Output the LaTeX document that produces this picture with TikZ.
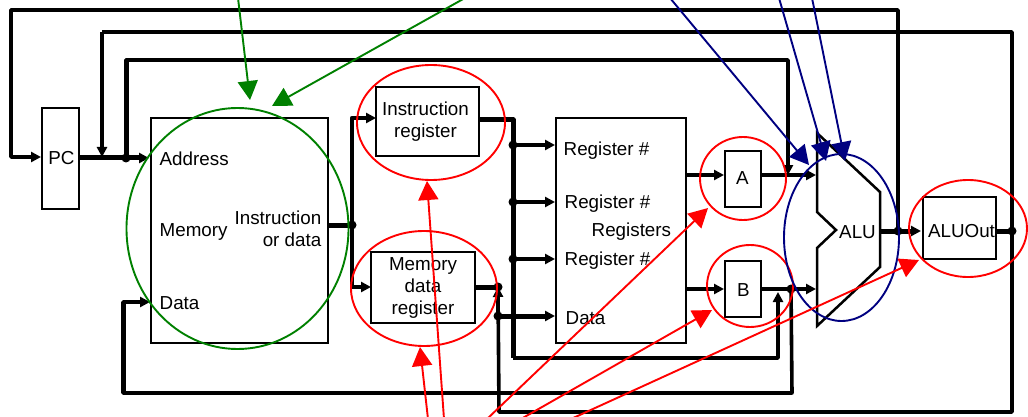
\documentclass[tikz,border=0pt]{standalone}
\usepackage{fontspec}
\setmainfont{Liberation Sans}
\usetikzlibrary{arrows.meta,shapes.geometric}
\definecolor{dkgreen}{RGB}{0,128,0}
\definecolor{dkblue}{RGB}{0,0,128}
\tikzset{
  lab/.style={inner sep=0pt,font=\fontsize{18.8}{22}\selectfont,text=black},
  box/.style={draw=black,line width=2.8pt,inner sep=0pt},
  ring/.style={ellipse,draw=#1,line width=1.9pt,inner sep=0pt},
  wire/.style={draw=black,line width=3.6pt,line join=round},
  bus/.style={draw=black,line width=5pt,line join=round},
  tip/.style={-{Triangle[length=10pt,width=10pt]}},
  dotn/.style={circle,fill=black,inner sep=0pt,minimum size=9pt},
  callred/.style={draw=red,line width=1.9pt,-{Triangle[length=19pt,width=20pt]}},
  callgreen/.style={draw=dkgreen,line width=1.9pt,-{Triangle[length=19pt,width=20pt]}},
  callblue/.style={draw=dkblue,line width=1.9pt,-{Triangle[length=19pt,width=20pt]}},
}
\begin{document}
\begin{tikzpicture}[x=1pt,y=-1pt]
\useasboundingbox (0,0) rectangle (1028,417);
% boxes
\node[box,minimum width=37pt,minimum height=101pt] (pc) at (60.5,158.5) {};
\node[box,minimum width=177pt,minimum height=225pt] (mem) at (239.5,230.5) {};
\node[box,minimum width=103pt,minimum height=69pt] (ir) at (427.5,121.5) {};
\node[box,minimum width=104pt,minimum height=71pt] (mdr) at (423,287.5) {};
\node[box,minimum width=130pt,minimum height=225pt] (regs) at (621,230.5) {};
\node[box,minimum width=36pt,minimum height=56pt] (a) at (743,179) {};
\node[box,minimum width=36pt,minimum height=56pt] (b) at (743,289) {};
\node[box,minimum width=73pt,minimum height=62pt] (aluout) at (959.5,228) {};
% labels
\node[lab] (tpc) at (61.5,158.5) {PC};
\node[lab,align=center] (tir) at (425.5,122) {Instruction\\register};
\node[lab,align=center] (tmdr) at (423,287.5) {Memory\\data\\register};
\node[lab] (ta) at (742.5,178.5) {A};
\node[lab] (tb) at (743.5,290) {B};
\node[lab] (aluouttxt) at (961.5,231.5) {ALUOut};
\node[lab,anchor=west] (t1) at (159.5,158.5) {Address};
\node[lab,anchor=west] (t2) at (159.5,232) {Memory};
\node[lab,anchor=west] (t3) at (159.5,303) {Data};
\node[lab,align=right,anchor=east] (t4) at (321.5,229) {Instruction\\or data};
\node[lab,anchor=west] (t5) at (563.5,151) {Register \#};
\node[lab,anchor=west] (t6) at (564.5,203.5) {Register \#};
\node[lab,anchor=west] (t7) at (564.5,261) {Register \#};
\node[lab,anchor=west] (t8) at (565.5,318) {Data};
\node[lab,anchor=west] (t9) at (591.5,232) {Registers};
\node[lab] (t10) at (857.5,232) {ALU};
% ALU
\draw[line width=2.5pt,line join=miter] (817,133) coordinate (alu1) -- (880,192) -- (880,267) -- (817,326) -- (817,248) -- (836,230) -- (817,212) -- cycle;
\coordinate (aluin1) at (816,175);
\coordinate (aluin2) at (816,289);
\coordinate (aluo) at (880,231);
% junctions
\node[dotn] (jpc) at (126,158) {};
\node[dotn] (jmem) at (352,225) {};
\node[dotn] (jmdr) at (498,287) {};
\node[dotn] (jd) at (498,316) {};
\node[dotn] (j1) at (513,145) {};
\node[dotn] (j2) at (513,202) {};
\node[dotn] (j3) at (513,259) {};
\node[dotn] (jb) at (791,289) {};
\node[dotn] (jalu) at (898,231) {};
\node[dotn] (jout) at (1012,231) {};
% routing points
\coordinate (pctop) at (11,10);
\coordinate (pcl) at (11,157);
\coordinate (pcin) at (41,157);
\coordinate (pcout) at (79,158);
\coordinate (addr) at (149,158);
\coordinate (n2a) at (102,32);
\coordinate (n2b) at (102,157);
\coordinate (n3a) at (126,60);
\coordinate (n3b) at (788,60);
\coordinate (n3c) at (788,175);
% black wires
\draw[wire,tip] (jalu.center) -- (898,10) -- (pctop) -- (pcl) -- (pcin);
\draw[wire,tip] (jout.center) -- (1012,412) -- (499,412) -- (jmdr.center);
\draw[wire] (jout.center) -- (1012,32) -- (n2a);
\draw[wire,tip] (n2a) -- (n2b);
\draw[wire,tip] (jpc.center) -- (n3a) -- (n3b) -- (n3c);
\draw[bus] (jpc.center) -- (n3a);
\draw[bus,tip] (pcout) -- (addr);
\draw[bus] (328,225) -- (jmem.center);
\draw[wire,line width=4.2pt,tip] (jmem.center) |- (376,118);
\draw[wire,line width=4.2pt,tip] (jmem.center) |- (371,287);
\draw[bus] (475,287) -- (jmdr.center);
\draw[wire] (jmdr.center) -- (jd.center);
\draw[bus,tip] (jd.center) -- (555,316);
\draw[bus] (479,120) -- (513,120) -- (j1.center);
\draw[bus] (j1.center) -- (513,358);
\draw[wire,tip] (513,358) -- (778,358) -- (778,292);
\draw[wire,tip] (j1.center) -- (555,145);
\draw[wire,tip] (j2.center) -- (555,202);
\draw[wire,tip] (j3.center) -- (555,259);
\draw[wire,tip] (686,175) -- (724,175);
\draw[wire,tip] (761,175) -- (aluin1);
\draw[wire,tip] (686,289) -- (724,289);
\draw[wire,tip] (761,289) -- (aluin2);
\draw[wire,tip] (jb.center) -- (792,393) -- (123,393) -- (123,302) -- (150,302);
\draw[bus] (123,393) -- (123,302);
\draw[bus,tip] (aluo) -- (921,231);
\draw[bus] (996,231) -- (jout.center);
% rings
\node[ring=dkgreen,minimum width=222pt,minimum height=241pt] (gmem) at (237.5,228.5) {};
\node[ring=red,minimum width=148pt,minimum height=115pt] (rir) at (431,122.5) {};
\node[ring=red,minimum width=146pt,minimum height=115pt] (rmdr) at (424,288.5) {};
\node[ring=red,minimum width=86pt,minimum height=83pt] (ra) at (743,178.5) {};
\node[ring=red,minimum width=86pt,minimum height=82pt] (rb) at (750,286) {};
\node[ring=red,minimum width=118pt,minimum height=97pt] (rout) at (968,228.5) {};
\node[ring=dkblue,minimum width=115pt,minimum height=167pt] (balu) at (841.5,237.5) {};
% callouts
\draw[callgreen] (238,-2) -- (250,100);
\draw[callgreen] (465,-2) -- (272,106);
\draw[callblue] (670,-2) -- (809,165);
\draw[callblue] (779,-2) -- (826,161);
\draw[callblue] (812,-2) -- (845,161);
\draw[callred] (444,419) -- (427,181);
\draw[callred] (428,419) -- (420,347);
\draw[callred] (487,419) -- (708,208);
\draw[callred] (521,419) -- (712,310);
\draw[callred] (571,419) -- (919,260);
\end{tikzpicture}
\end{document}
